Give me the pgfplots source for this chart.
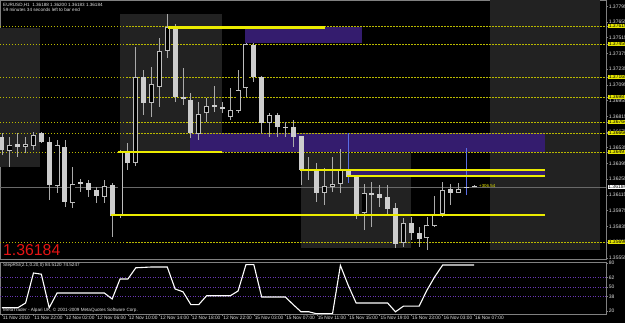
\documentclass[border=0pt]{standalone}
\usepackage{fontspec}
\setmainfont{Liberation Sans}
\usepackage{pgfplots}
\usepackage{pgfplotstable}
\pgfplotsset{compat=1.18}

\definecolor{axgrey}{RGB}{128,128,128}
\definecolor{labgrey}{RGB}{225,225,225}
\definecolor{sess}{RGB}{34,34,34}
\definecolor{purp}{RGB}{52,28,110}
\definecolor{yel}{RGB}{235,235,0}
\definecolor{ydash}{RGB}{185,185,0}
\definecolor{ylab}{RGB}{230,230,0}
\definecolor{wick}{RGB}{170,170,170}
\definecolor{bearbody}{RGB}{205,205,205}
\definecolor{bullline}{RGB}{190,190,190}
\definecolor{bluew}{RGB}{90,110,230}
\definecolor{levpurp}{RGB}{105,55,180}
\definecolor{pricered}{RGB}{230,20,20}
\definecolor{curline}{RGB}{105,105,105}

% bullish (hollow) candles: bar index, open, high, low, close
\pgfplotstableread{
i O H L C
1 1.36506 1.36631 1.36364 1.36559
3 1.36542 1.36631 1.36488 1.36568
4 1.36551 1.36675 1.36515 1.36649
7 1.36194 1.36604 1.36132 1.36559
9 1.36043 1.36364 1.35998 1.36212
13 1.36096 1.36248 1.36043 1.36194
15 1.35927 1.36515 1.35909 1.36497
17 1.36399 1.37432 1.36372 1.37165
19 1.36934 1.37254 1.36809 1.37103
20 1.37076 1.37512 1.36898 1.37397
21 1.37397 1.37726 1.37334 1.37610
25 1.36657 1.36942 1.36604 1.36836
26 1.36844 1.36978 1.36764 1.36907
29 1.36809 1.37067 1.36782 1.36871
30 1.36862 1.37227 1.36844 1.37049
31 1.37067 1.37468 1.36987 1.37459
34 1.36755 1.36844 1.36631 1.36827
41 1.36132 1.36355 1.36025 1.36194
42 1.36185 1.36453 1.36141 1.36212
43 1.36212 1.36524 1.36132 1.36337
46 1.35954 1.36212 1.35802 1.36132
51 1.35687 1.35909 1.35651 1.35865
54 1.35731 1.35918 1.35624 1.35847
55 1.35838 1.36105 1.35829 1.35945
56 1.35945 1.36230 1.35918 1.36159
58 1.36132 1.36221 1.36132 1.36168
}\bull

% bearish (filled) candles and dojis
\pgfplotstableread{
i O H L C
0 1.36631 1.36666 1.36470 1.36515
2 1.36568 1.36666 1.36453 1.36542
5 1.36666 1.36675 1.36577 1.36586
6 1.36586 1.36631 1.36070 1.36203
8 1.36542 1.36604 1.36007 1.36052
10 1.36230 1.36257 1.36141 1.36212
11 1.36221 1.36248 1.36096 1.36159
12 1.36159 1.36185 1.36043 1.36105
14 1.36203 1.36221 1.35740 1.35927
16 1.36488 1.36577 1.36337 1.36399
18 1.37165 1.37227 1.36827 1.36934
22 1.37601 1.37637 1.36942 1.36987
23 1.36987 1.37245 1.36916 1.36969
24 1.36960 1.37023 1.36622 1.36666
27 1.36916 1.37085 1.36853 1.36898
28 1.36898 1.36942 1.36844 1.36880
32 1.37450 1.37468 1.37121 1.37165
33 1.37165 1.37174 1.36666 1.36755
35 1.36827 1.36844 1.36631 1.36720
36 1.36720 1.36764 1.36631 1.36711
37 1.36720 1.36782 1.36542 1.36631
38 1.36640 1.36640 1.36203 1.36337
39 1.36337 1.36453 1.36248 1.36328
40 1.36337 1.36399 1.36052 1.36132
44 1.36328 1.36666 1.36221 1.36274
45 1.36274 1.36292 1.35900 1.35945
47 1.36132 1.36230 1.35829 1.36114
48 1.36123 1.36203 1.36007 1.36087
49 1.36096 1.36203 1.35936 1.35989
50 1.35998 1.36043 1.35642 1.35678
52 1.35865 1.35918 1.35713 1.35776
53 1.35776 1.35829 1.35651 1.35722
57 1.36168 1.36212 1.36025 1.36132
59 1.36177 1.36533 1.36114 1.36177
60 1.36188 1.36200 1.36183 1.36184
}\bear

% blue wicks
\pgfplotstableread{
i L H
44 1.36221 1.36666
59 1.36114 1.36533
}\bluewick

% StepRSI
\pgfplotstableread{
i v
0 24
1 24
2 24
3 30
4 67.5
5 66
6 24
7 42.5
8 42.5
9 42.5
10 42.5
11 42.5
12 42.5
13 42.5
14 35
15 60
16 60
17 74
18 74.5
19 75
20 75
21 75
22 47.5
23 44
24 28
25 28
26 39
27 39
28 39
29 39
30 45
31 78
32 78
33 37.5
34 37.5
35 37.5
36 37.5
37 28
38 19
39 19
40 16.5
41 16.5
42 16.5
43 77
44 52
45 30
46 30
47 30
48 30
49 30
50 19
51 26
52 26
53 26
54 46
55 63
56 77.5
57 77.5
58 77.5
59 77.5
60 77.5
}\rsi

\pgfplotsset{
  mtbox/.style={
    scale only axis,
    anchor=south west,
    xmin=-0.254, xmax=76.75,
    axis background/.style={fill=black},
    axis line style={draw=axgrey, line width=0.8pt},
    tick align=outside,
    tick style={draw=axgrey, line width=0.5pt},
    ytick pos=right,
    yticklabel pos=right,
    yticklabel style={font=\fontsize{5}{6}\selectfont, text=labgrey, inner sep=0.6pt},
  },
}

\begin{document}
\begin{tikzpicture}
\fill[black] (0pt,0pt) rectangle (625pt,323pt);

% ---------------- main price panel ----------------
\begin{axis}[mtbox,
  at={(0pt,64pt)}, width=606pt, height=259pt,
  ymin=1.35544, ymax=1.37851,
  xtick=\empty,
  major tick length=2pt,
  ytick={1.35555,1.35695,1.35835,1.35975,1.36115,1.36255,1.36395,1.36535,1.36675,1.36815,1.36955,1.37095,1.37235,1.37375,1.37515,1.37655,1.37795},
  yticklabels={1.35555,1.35695,1.35835,1.35975,1.36115,1.36255,1.36395,1.36535,1.36675,1.36815,1.36955,1.37095,1.37235,1.37375,1.37515,1.37655,1.37795},
  extra y ticks={1.37619,1.37459,1.37165,1.36987,1.36764,1.36666,1.36497,1.35696},
  extra y tick labels={1.37619,1.37459,1.37165,1.36987,1.36764,1.36666,1.36497,1.35696},
  extra y tick style={yticklabel style={fill=ylab, text=black, inner sep=0.6pt}},
]
% session boxes
\addplot[fill=sess, draw=none] coordinates {(-0.254,1.37601) (4.83,1.37601) (4.83,1.36364) (-0.254,1.36364)} -- cycle;
\addplot[fill=sess, draw=none] coordinates {(14.99,1.37726) (27.95,1.37726) (27.95,1.36506) (14.99,1.36506)} -- cycle;
\addplot[fill=sess, draw=none] coordinates {(37.99,1.36488) (51.97,1.36488) (51.97,1.35642) (37.99,1.35642)} -- cycle;
\addplot[fill=sess, draw=none] coordinates {(62.0,1.37851) (75.98,1.37851) (75.98,1.35624) (62.0,1.35624)} -- cycle;
% purple zones
\addplot[fill=purp, draw=none] coordinates {(30.88,1.37610) (45.74,1.37610) (45.74,1.37468) (30.88,1.37468)} -- cycle;
\addplot[fill=purp, draw=none] coordinates {(23.89,1.36666) (69.0,1.36666) (69.0,1.36497) (23.89,1.36497)} -- cycle;
\addplot[fill=purp, draw=none] coordinates {(43.84,1.36328) (69.0,1.36328) (69.0,1.36292) (43.84,1.36292)} -- cycle;
% dotted level lines
\foreach \p in {1.37619,1.37459,1.37165,1.36987,1.36764,1.36666,1.36497,1.35696}{
  \edef\tmp{\noexpand\addplot[ydash, line width=0.6pt, dash pattern=on 1.5pt off 1.5pt] coordinates {(-0.254,\p) (76.75,\p)};}
  \tmp
}
% current price line
\addplot[curline, line width=0.6pt] coordinates {(-0.254,1.36184) (76.75,1.36184)};
% wicks
\addplot[draw=none, mark=none, error bars/.cd, y dir=plus, y explicit, error mark=none,
  error bar style={draw=wick, line width=0.9pt, solid}]
  table[x=i, y=L, y error expr=\thisrow{H}-\thisrow{L}] {\bull};
\addplot[draw=none, mark=none, error bars/.cd, y dir=plus, y explicit, error mark=none,
  error bar style={draw=wick, line width=0.9pt, solid}]
  table[x=i, y=L, y error expr=\thisrow{H}-\thisrow{L}] {\bear};
\addplot[draw=none, mark=none, error bars/.cd, y dir=plus, y explicit, error mark=none,
  error bar style={draw=bluew, line width=0.9pt, solid}]
  table[x=i, y=L, y error expr=\thisrow{H}-\thisrow{L}] {\bluewick};
% bear bodies
\addplot[draw=none, mark=none, error bars/.cd, y dir=plus, y explicit, error mark=none,
  error bar style={draw=bearbody, line width=5pt, solid}]
  table[x=i, y=C, y error expr={max(\thisrow{O}-\thisrow{C},0.00009)}] {\bear};
% bull bodies: outline then black interior
\addplot[draw=none, mark=none, error bars/.cd, y dir=plus, y explicit, error mark=none,
  error bar style={draw=bullline, line width=5pt, solid}]
  table[x=i, y=O, y error expr={max(\thisrow{C}-\thisrow{O},0.00009)}] {\bull};
\addplot[draw=none, mark=none, error bars/.cd, y dir=plus, y explicit, error mark=none,
  error bar style={draw=black, line width=3.4pt, solid}]
  table[x=i, y expr=\thisrow{O}+0.00007, y error expr={max(\thisrow{C}-\thisrow{O}-0.00014,0)}] {\bull};
% thick yellow lines
\addplot[yel, line width=2.2pt] coordinates {(21.09,1.37606) (41.04,1.37606)};
\addplot[yel, line width=2.2pt] coordinates {(14.74,1.36497) (27.95,1.36497)};
\addplot[yel, line width=2.2pt] coordinates {(37.87,1.36337) (69.0,1.36337)};
\addplot[yel, line width=2.2pt] coordinates {(43.84,1.36283) (69.0,1.36283)};
\addplot[yel, line width=2.2pt] coordinates {(13.8,1.35936) (69.0,1.35936)};
\end{axis}

% ---------------- StepRSI panel ----------------
\begin{axis}[mtbox,
  at={(0pt,9pt)}, width=606pt, height=52pt,
  ymin=16.25, ymax=81.25,
  ytick={20,38,50,62,80}, yticklabels={20,38,50,62,80},
  major tick length=2pt,
  xtick={0,4,...,60},
  xticklabels={11 Nov 2010,11 Nov 22:00,12 Nov 02:00,12 Nov 06:00,12 Nov 10:00,12 Nov 14:00,12 Nov 18:00,12 Nov 22:00,15 Nov 03:00,15 Nov 07:00,15 Nov 11:00,15 Nov 15:00,15 Nov 19:00,15 Nov 23:00,16 Nov 03:00,16 Nov 07:00},
  xtick pos=bottom,
  xticklabel style={font=\fontsize{4.8}{5}\selectfont, text=labgrey, anchor=north west, inner sep=0pt, xshift=0.8pt},
]
\addplot[levpurp, line width=0.6pt, dash pattern=on 1pt off 1.5pt] coordinates {(-0.254,62) (76.75,62)};
\addplot[levpurp, line width=0.6pt, dash pattern=on 1pt off 1.5pt] coordinates {(-0.254,50) (76.75,50)};
\addplot[levpurp, line width=0.6pt, dash pattern=on 1pt off 1.5pt] coordinates {(-0.254,38) (76.75,38)};
\addplot[white, line width=1.1pt] table[x=i, y=v] {\rsi};
\end{axis}

% ---------------- texts ----------------
\node[anchor=west, inner sep=0pt, text=labgrey, font=\fontsize{4.6}{5}\selectfont] at (3pt,318pt) {EURUSD,H1\ \ 1.36188 1.36200 1.36183 1.36184};
\node[anchor=west, inner sep=0pt, text=labgrey, font=\fontsize{4.6}{5}\selectfont] at (3pt,313pt) {59 minutes 34 seconds left to bar end};
\node[anchor=base west, inner sep=0pt, text=pricered, font=\fontsize{15.8}{16}\selectfont] at (3pt,67.5pt) {1.36184};
\node[anchor=west, inner sep=0pt, text=yel, font=\fontsize{4.4}{5}\selectfont] at (479pt,137pt) {+306.54};
\node[anchor=west, inner sep=0.6pt, fill=white, text=black, font=\fontsize{5}{6}\selectfont] at (607.5pt,136pt) {1.36184};
\node[anchor=west, inner sep=0pt, text=labgrey, font=\fontsize{4.6}{5}\selectfont] at (3pt,58pt) {StepRSI(2.1,0.20,0) 84.5120 74.5247};
\node[anchor=west, inner sep=0pt, text=labgrey, font=\fontsize{4.6}{5}\selectfont] at (3pt,13pt) {MetaTrader - Alpari UK, © 2001-2009 MetaQuotes Software Corp.};

\pgfresetboundingbox
\useasboundingbox (0pt,0pt) rectangle (625pt,323pt);
\end{tikzpicture}
\end{document}
